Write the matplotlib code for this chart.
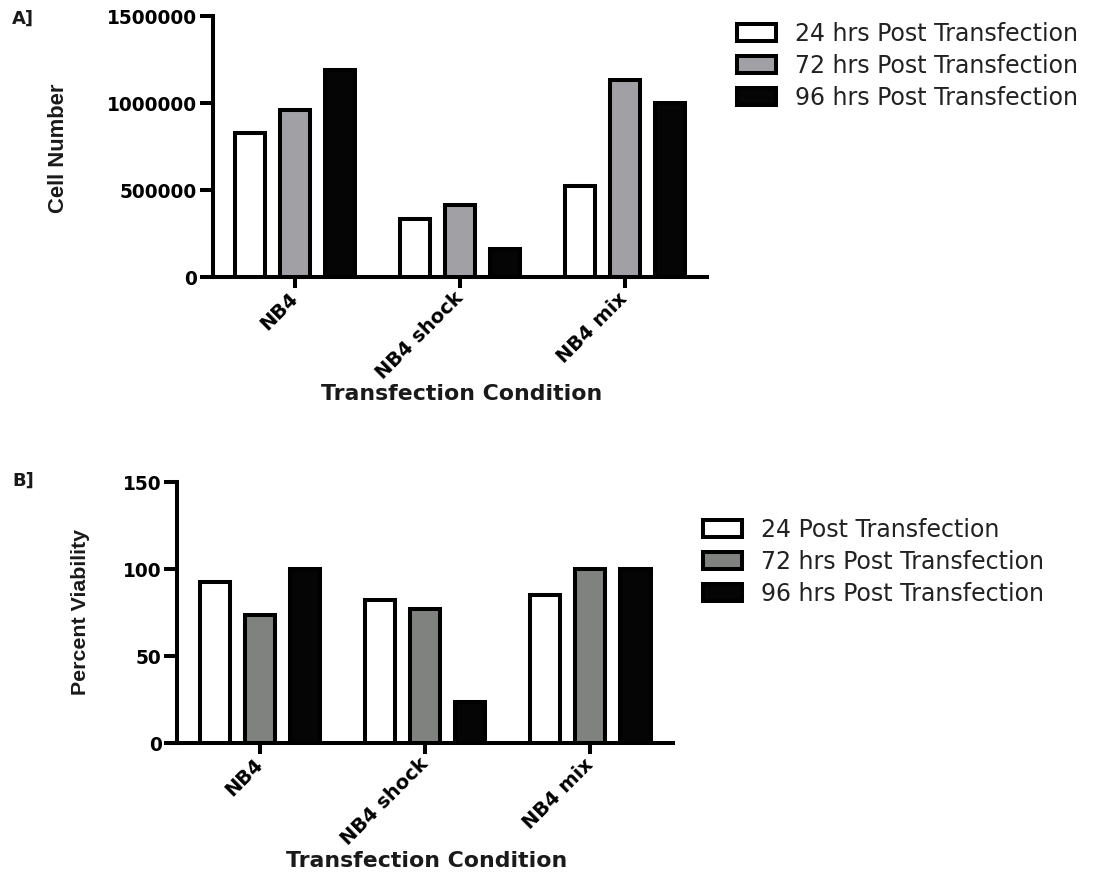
import numpy as np
import matplotlib
matplotlib.use("Agg")
import matplotlib.pyplot as plt
import matplotlib.transforms as mtransforms


####### Data #######

conditions = ["NB4", "NB4 shock", "NB4 mix"]

# A] cell number, one list per time point (NB4, NB4 shock, NB4 mix)
cells_24h = [828000, 336000, 522000]
cells_72h = [962000, 414000, 1132000]
cells_96h = [1188000, 160000, 998000]
cell_labels = ["24 hrs Post Transfection", "72 hrs Post Transfection", "96 hrs Post Transfection"]
cell_yticks = [0, 500000, 1000000, 1500000]
cell_yticklabels = ["0", "500000", "1000000", "1500000"]

# B] percent viability
via_24 = [92.8, 82.5, 85.4]
via_72 = [73.6, 77.4, 100.0]
via_96 = [100.0, 23.8, 100.0]
via_labels = ["24 Post Transfection", "72 hrs Post Transfection", "96 hrs Post Transfection"]
via_yticks = [0, 50, 100, 150]
via_yticklabels = ["0", "50", "100", "150"]

########################################

W, H = 1093, 875
fig = plt.figure(figsize=(W / 100, H / 100), dpi=100)

bold_font = "DejaVu Sans"
narrow = "Liberation Sans"
lw = 2.9          # spines / bar edges, pt
bar_w = 0.182
offs = 0.273


def px_box(left, top, right, bottom):
    return [left / W, 1 - bottom / H, (right - left) / W, (bottom - top) / H]


def draw_panel(ax, series, colors, ylim, yticks, yticklabels):
    x = np.arange(len(conditions))
    bars = []
    for i, (vals, col) in enumerate(zip(series, colors)):
        b = ax.bar(x + (i - 1) * offs, vals, width=bar_w, color=col,
                   edgecolor="black", linewidth=lw, zorder=3)
        bars.append(b)
    ax.set_xlim(-0.5, 2.5)
    ax.set_ylim(*ylim)
    ax.set_yticks(yticks)
    ax.set_yticklabels(yticklabels, fontsize=13.4, fontweight="bold", family=bold_font)
    ax.set_xticks(x)
    ax.set_xticklabels(conditions, fontsize=14, fontweight="bold", family=bold_font,
                       rotation=45, ha="right", va="center", rotation_mode="anchor")
    shift = mtransforms.ScaledTranslation(7 / 100, 0, fig.dpi_scale_trans)
    for lab in ax.get_xticklabels():
        lab.set_transform(lab.get_transform() + shift)
    for s in ["top", "right"]:
        ax.spines[s].set_visible(False)
    for s in ["left", "bottom"]:
        ax.spines[s].set_linewidth(lw)
    ax.tick_params(axis="y", length=9.1, width=lw, pad=2.2)
    ax.tick_params(axis="x", length=8, width=lw, pad=5)
    ax.patch.set_visible(False)
    return bars


## Panel A
axA = fig.add_axes(px_box(212.7, 16, 707, 277.3))
barsA = draw_panel(axA, [cells_24h, cells_72h, cells_96h],
                   ["white", "#a1a1a5", "#050505"],
                   (0, 1500000), cell_yticks, cell_yticklabels)

## Panel B
axB = fig.add_axes(px_box(177.3, 482.3, 673, 743.3))
barsB = draw_panel(axB, [via_24, via_72, via_96],
                   ["white", "#808280", "#050505"],
                   (0, 150), via_yticks, via_yticklabels)

## Labels
fig.text(58 / W, 1 - 148 / H, "Cell Number", rotation=90, ha="center", va="center",
         fontsize=15.8, fontweight="bold", family=narrow, color="#1a1a1a")
fig.text(80 / W, 1 - 612 / H, "Percent Viability", rotation=90, ha="center", va="center",
         fontsize=15.4, fontweight="bold", family=narrow, color="#1a1a1a")
fig.text(462 / W, 1 - 394 / H, "Transfection Condition", ha="center", va="center",
         fontsize=15.8, fontweight="bold", family=bold_font, color="#1a1a1a")
fig.text(427 / W, 1 - 861 / H, "Transfection Condition", ha="center", va="center",
         fontsize=15.8, fontweight="bold", family=bold_font, color="#1a1a1a")
fig.text(12 / W, 1 - 19 / H, "A]", ha="left", va="center",
         fontsize=13, fontweight="bold", family=bold_font, color="#1a1a1a")
fig.text(12 / W, 1 - 481 / H, "B]", ha="left", va="center",
         fontsize=13, fontweight="bold", family=bold_font, color="#1a1a1a")

## Legends
leg_kw = dict(loc="upper left", frameon=False, borderpad=0, borderaxespad=0,
              prop={"family": "DejaVu Sans", "size": 17.0},
              handlelength=1.65, handleheight=0.73, handletextpad=0.82,
              labelspacing=0.33, labelcolor="#222222")
fig.legend([b[0] for b in barsA], cell_labels,
           bbox_to_anchor=(737 / W, 1 - 22 / H), **leg_kw)
fig.legend([b[0] for b in barsB], via_labels,
           bbox_to_anchor=(703 / W, 1 - 518 / H), **leg_kw)

plt.savefig("out.png", dpi=100)
